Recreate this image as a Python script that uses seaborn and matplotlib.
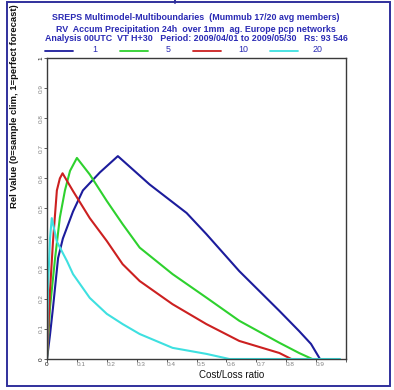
import matplotlib
matplotlib.use("Agg")
import matplotlib.pyplot as plt
from matplotlib.lines import Line2D
from matplotlib.patches import Rectangle
import seaborn as sns
import pandas as pd

# Relative value curves for different ensemble sizes (members averaged)
members = ["1", "5", "10", "20"]
colors = ["#1c1c9c", "#2ed12e", "#cc2020", "#3ee0e0"]

cl_1 = [0, 0.01, 0.02, 0.037, 0.053, 0.087, 0.12, 0.177, 0.237, 0.343, 0.467, 0.533, 0.643, 0.777, 0.843, 0.883, 0.913]
rv_1 = [0, 0.08, 0.17, 0.335, 0.40, 0.49, 0.56, 0.62, 0.674, 0.58, 0.485, 0.415, 0.292, 0.16, 0.093, 0.05, 0.0]

cl_5 = [0, 0.01, 0.027, 0.043, 0.06, 0.077, 0.1, 0.143, 0.2, 0.253, 0.31, 0.42, 0.533, 0.643, 0.777, 0.843, 0.887]
rv_5 = [0, 0.17, 0.335, 0.47, 0.56, 0.625, 0.668, 0.613, 0.525, 0.448, 0.37, 0.282, 0.204, 0.127, 0.054, 0.02, 0]

cl_10 = [0, 0.01, 0.02, 0.033, 0.043, 0.052, 0.087, 0.143, 0.2, 0.253, 0.31, 0.42, 0.533, 0.643, 0.777, 0.817]
rv_10 = [0, 0.226, 0.39, 0.56, 0.6, 0.617, 0.558, 0.468, 0.392, 0.315, 0.259, 0.182, 0.116, 0.06, 0.02, 0]

cl_20 = [0, 0.003, 0.01, 0.016, 0.033, 0.067, 0.087, 0.143, 0.2, 0.253, 0.31, 0.42, 0.533, 0.61, 0.98]
rv_20 = [0, 0.226, 0.4, 0.468, 0.39, 0.325, 0.282, 0.203, 0.15, 0.116, 0.083, 0.037, 0.017, 0, 0]

tick_vals = [0, 0.1, 0.2, 0.3, 0.4, 0.5, 0.6, 0.7, 0.8, 0.9, 1]
x_tick_text = ["0", "0.1", "0.2", "0.3", "0.4", "0.5", "0.6", "0.7", "0.8", "0.9", ""]
y_tick_text = ["0", "0.1", "0.2", "0.3", "0.4", "0.5", "0.6", "0.7", "0.8", "0.9", "1"]

title_lines = [
    "SREPS Multimodel-Multiboundaries  (Mummub 17/20 avg members)",
    "RV  Accum Precipitation 24h  over 1mm  ag. Europe pcp networks",
    "Analysis 00UTC  VT H+30   Period: 2009/04/01 to 2009/05/30   Rs: 93 546",
]

sns.set_style("white")
plt.rcParams["font.family"] = ["Liberation Sans", "DejaVu Sans"]

W, H = 394, 390
fig = plt.figure(figsize=(W / 100, H / 100), dpi=100)
ax = fig.add_axes([47 / W, 1 - 359 / H, 299 / W, 301 / H])

frames = []
for m, xs, ys in zip(members, [cl_1, cl_5, cl_10, cl_20], [rv_1, rv_5, rv_10, rv_20]):
    frames.append(pd.DataFrame({"cost_loss": xs, "rel_value": ys, "members": m}))
df = pd.concat(frames, ignore_index=True)

sns.lineplot(data=df, x="cost_loss", y="rel_value", hue="members",
             palette=dict(zip(members, colors)), hue_order=members,
             sort=False, estimator=None, linewidth=1.5, legend=False, ax=ax)

ax.set_xlim(0, 1)
ax.set_ylim(0, 1)
ax.set_xlabel("")
ax.set_ylabel("")
ax.set_xticks(tick_vals)
ax.set_yticks(tick_vals)
ax.set_xticklabels(x_tick_text, fontsize=4.6, color="#808080", ha="left")
ax.set_yticklabels(y_tick_text, fontsize=4.6, color="#808080", rotation=90, va="center")
for lbl in (ax.get_xticklabels()[0], ax.get_yticklabels()[0], ax.get_yticklabels()[-1]):
    lbl.set_color("#111111")
ax.get_xticklabels()[0].set_ha("center")
ax.tick_params(axis="both", length=2, width=0.6, pad=0.5, color="#444444", direction="out")
ax.tick_params(axis="x", bottom=True)
ax.tick_params(axis="y", left=True)
for s in ax.spines.values():
    s.set_color("#3a3a3a")
    s.set_linewidth(1.0)

# Titles
title_y = [18, 29.5, 38.5]
for txt, yy in zip(title_lines, title_y):
    fig.text(196 / W, 1 - yy / H, txt, ha="center", va="center",
             fontsize=6.4, fontweight="bold", color="#2a2ab4")

# Legend row: line sample and member count for each curve
leg_x0 = [45, 120, 193, 270]
leg_tx = [95, 168, 243, 318]
for m, c, x0, tx in zip(members, colors, leg_x0, leg_tx):
    fig.add_artist(Line2D([x0 / W, (x0 + 28) / W], [1 - 51 / H, 1 - 51 / H],
                          color=c, linewidth=1.3, transform=fig.transFigure))
    fig.text(tx / W, 1 - 50 / H, m, ha="center", va="center",
             fontsize=6.4, color="#2a2ab4")

# Axis titles
fig.text(15 / W, 1 - 208 / H, "Rel Value (0=sample clim, 1=perfect forecast)",
         rotation=90, ha="center", va="bottom", fontsize=6.8,
         fontweight="bold", color="#111111")
fig.text(232 / W, 1 - 375 / H, "Cost/Loss ratio", ha="center", va="center",
         fontsize=7.0, color="#111111")

# Outer frame
fig.add_artist(Rectangle((7 / W, 1 - 386 / H), 383 / W, 384 / H, fill=False,
                         edgecolor="#30309c", linewidth=1.4,
                         transform=fig.transFigure))
fig.add_artist(Line2D([175 / W, 175 / W], [1 - 3 / H, 1.0], color="#30309c",
                      linewidth=1.4, transform=fig.transFigure))

fig.savefig("out.png", dpi=100)
